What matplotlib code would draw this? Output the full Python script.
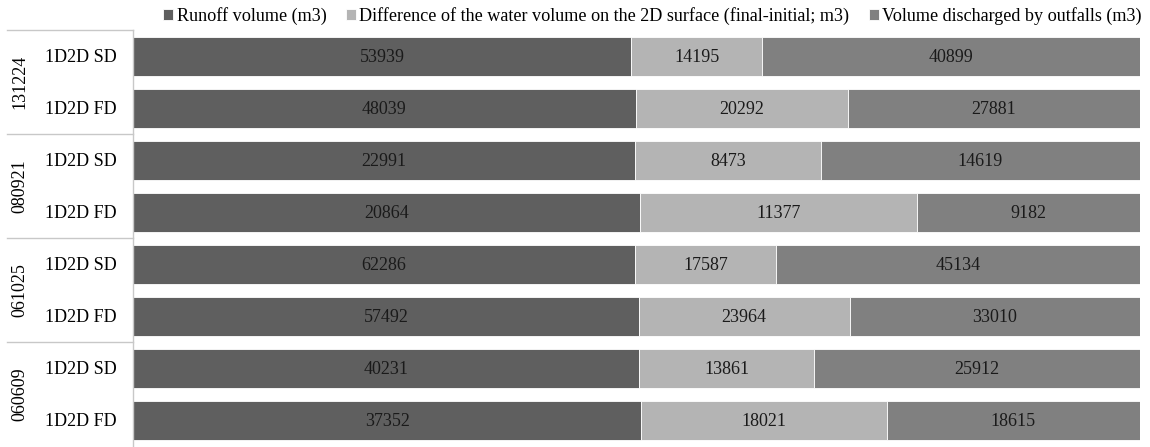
import matplotlib.pyplot as plt
import numpy as np

plt.rcParams['font.family'] = ['Liberation Serif', 'DejaVu Serif']

events = ['131224', '080921', '061025', '060609']
models = ['1D2D SD', '1D2D FD']
series = ['Runoff volume (m3)',
          'Difference of the water volume on the 2D surface (final-initial; m3)',
          'Volume discharged by outfalls (m3)']
colors = ['#5f5f5f', '#b4b4b4', '#808080']

# rows top to bottom: 131224 SD, 131224 FD, 080921 SD, ...
runoff = [53939, 48039, 22991, 20864, 62286, 57492, 40231, 37352]
diff_2d = [14195, 20292, 8473, 11377, 17587, 23964, 13861, 18021]
outfalls = [40899, 27881, 14619, 9182, 45134, 33010, 25912, 18615]

data = np.array([runoff, diff_2d, outfalls], dtype=float)
shares = data / data.sum(axis=0)
n = data.shape[1]
y = np.arange(n)

fig = plt.figure(figsize=(11.5, 4.47), dpi=100)
ax = fig.add_axes([133 / 1150, 1 / 447, 1007 / 1150, 416 / 447])

left = np.zeros(n)
for i in range(3):
    ax.barh(y, shares[i], left=left, height=0.75, color=colors[i],
            edgecolor='white', linewidth=0.6, label=series[i])
    for j in range(n):
        ax.text(left[j] + shares[i][j] / 2, y[j], f'{int(data[i][j])}',
                ha='center', va='center_baseline', fontsize=13, color='#1a1a1a')
    left += shares[i]

ax.set_xlim(0, 1)
ax.set_ylim(n - 0.5, -0.5)
ax.set_xticks([])
ax.set_yticks(y)
ax.set_yticklabels(models * len(events), fontsize=13, va='center_baseline')
ax.tick_params(axis='y', length=0, pad=12)
for s in ['top', 'right', 'bottom']:
    ax.spines[s].set_visible(False)
ax.spines['left'].set_color('#c8c8c8')
ax.spines['left'].set_linewidth(1)

# group separators and labels on the left
tr = ax.get_yaxis_transform()
x0 = -126 / 1007
for k in range(len(events)):
    yy = k * 2 - 0.5
    ax.plot([x0, 0], [yy, yy], transform=tr, color='#c8c8c8', lw=1, clip_on=False)
for k, ev in enumerate(events):
    ax.text(-113 / 1007, k * 2 + 0.5, ev, transform=tr, rotation=90,
            ha='center', va='center', fontsize=13)

fig.legend(loc='upper right', bbox_to_anchor=(1149 / 1150, 1.0), ncol=3,
           frameon=False, fontsize=13.1, handlelength=0.55, handleheight=0.55,
           handletextpad=0.2, columnspacing=1.05, borderaxespad=0.0)

fig.savefig('out.png', dpi=100)
